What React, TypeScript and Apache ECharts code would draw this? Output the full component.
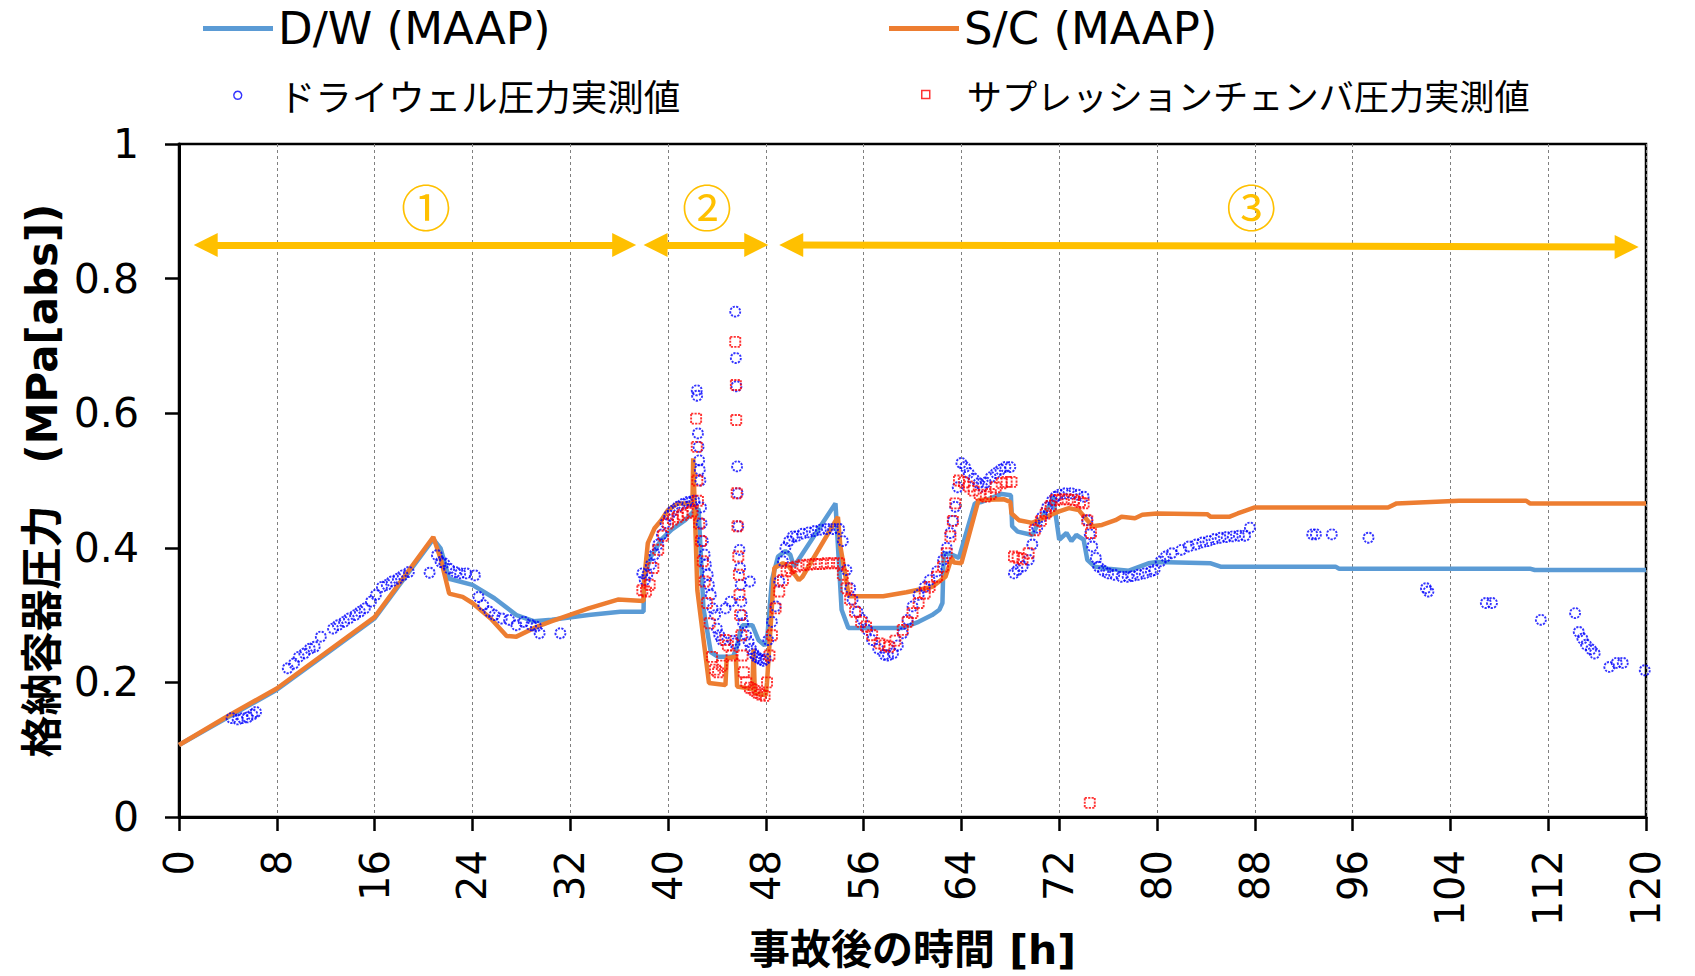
import React, { useEffect, useRef } from "react";
import * as echarts from "echarts";

// Containment pressure after the accident: MAAP analysis vs. measured values
// [hours after accident, pressure MPa(abs)]

const dwMaap: [number, number][] = [
  [0, 0.107], [4, 0.148], [8, 0.189], [12, 0.242], [16, 0.295], [20.8, 0.413],
  [21.4, 0.399], [22.1, 0.354], [24, 0.345], [25.8, 0.325], [27.6, 0.3], [29, 0.291],
  [30.5, 0.293], [33.5, 0.3], [36.1, 0.305], [38, 0.305], [38.05, 0.357], [38.6, 0.387],
  [39.45, 0.412], [40.3, 0.427], [41.4, 0.441], [42.2, 0.456], [42.5, 0.458], [42.9, 0.31],
  [43.5, 0.245], [44.1, 0.238], [45.3, 0.238], [45.6, 0.25], [45.9, 0.275], [46.1, 0.285],
  [46.9, 0.285], [47.4, 0.263], [47.9, 0.255], [48.1, 0.262], [48.5, 0.352], [49, 0.387],
  [49.6, 0.395], [50, 0.39], [50.3, 0.372], [53.7, 0.466], [54.2, 0.308], [54.75, 0.281],
  [59.2, 0.281], [60.5, 0.29], [61.6, 0.3], [62.2, 0.308], [62.45, 0.318], [62.55, 0.392],
  [63.2, 0.39], [63.8, 0.385], [65.1, 0.466], [65.6, 0.468], [67.3, 0.48], [68.05, 0.478],
  [68.15, 0.432], [68.6, 0.424], [69.8, 0.419], [70.3, 0.437], [71.3, 0.466], [71.5, 0.476],
  [72, 0.412], [72.6, 0.422], [73, 0.41], [73.4, 0.419], [74, 0.412], [74.3, 0.382],
  [74.9, 0.372], [76, 0.369], [77.7, 0.366], [79.3, 0.377], [80, 0.379], [84.4, 0.377],
  [85.2, 0.372], [94.6, 0.372], [94.9, 0.369], [110.5, 0.369], [110.9, 0.367], [120, 0.367],
];

const scMaap: [number, number][] = [
  [0, 0.107], [4, 0.15], [8, 0.191], [12, 0.244], [16, 0.297], [20.8, 0.416],
  [21.4, 0.384], [22.1, 0.332], [23.2, 0.327], [24, 0.318], [25.5, 0.295], [26.8, 0.269],
  [27.6, 0.268], [29.3, 0.283], [30.5, 0.291], [33.5, 0.31], [35.9, 0.323], [38, 0.321],
  [38.05, 0.352], [38.35, 0.407], [38.9, 0.429], [39.45, 0.441], [40, 0.456], [40.8, 0.466],
  [42, 0.466], [42.06, 0.533], [42.4, 0.337], [43.35, 0.199], [44.7, 0.196], [44.8, 0.236],
  [45.55, 0.238], [45.65, 0.194], [46.9, 0.19], [47, 0.25], [47.1, 0.184], [48, 0.181],
  [48.1, 0.2], [48.7, 0.37], [49.4, 0.377], [49.9, 0.372], [50.7, 0.352], [51, 0.357],
  [53.9, 0.446], [54.1, 0.402], [54.8, 0.328], [57.6, 0.328], [59.5, 0.334], [61.1, 0.34],
  [61.6, 0.342], [62.7, 0.357], [63.2, 0.385], [63.4, 0.378], [64, 0.377], [65.4, 0.471],
  [67.5, 0.472], [68, 0.468], [68.1, 0.451], [68.7, 0.441], [69.8, 0.437], [70.9, 0.446],
  [72, 0.454], [72.8, 0.459], [73.6, 0.456], [74.3, 0.441], [74.7, 0.432], [75.5, 0.434],
  [76.6, 0.441], [77.1, 0.446], [78.2, 0.444], [78.8, 0.449], [80, 0.451], [84.1, 0.45],
  [84.4, 0.446], [85.9, 0.446], [86.6, 0.451], [88, 0.46], [98.9, 0.46], [99.6, 0.466],
  [104.7, 0.47], [110.2, 0.47], [110.5, 0.466], [120, 0.466],
];

const dwMeasured: [number, number][] = [
  [4.3, 0.147], [4.8, 0.145], [5.2, 0.147], [5.6, 0.148], [6.0, 0.152], [6.3, 0.156],
  [8.9, 0.221], [9.4, 0.228], [9.8, 0.238], [10.25, 0.243], [10.7, 0.25], [11.1, 0.253],
  [11.6, 0.268], [12.6, 0.28], [13.0, 0.285], [13.5, 0.29], [13.9, 0.295], [14.4, 0.3],
  [14.8, 0.305], [15.2, 0.31], [15.7, 0.32], [16.1, 0.33], [16.6, 0.342], [17.0, 0.345],
  [17.4, 0.35], [17.9, 0.354], [18.3, 0.359], [18.8, 0.364], [20.5, 0.363],
  [21.1, 0.389], [21.4, 0.379], [21.7, 0.377], [22.1, 0.369], [22.6, 0.364], [23.0, 0.362],
  [23.5, 0.362], [24.2, 0.359], [24.5, 0.327], [24.9, 0.315], [25.4, 0.305], [25.8, 0.3],
  [26.4, 0.295], [27.0, 0.293], [27.6, 0.285], [28.2, 0.29], [28.8, 0.285], [29.2, 0.283],
  [29.5, 0.273], [31.2, 0.273],
  [37.9, 0.362], [38.1, 0.352], [38.3, 0.36], [38.6, 0.375], [38.9, 0.39], [39.2, 0.405],
  [39.5, 0.42], [39.8, 0.437], [40.1, 0.448], [40.4, 0.455], [40.8, 0.461], [41.2, 0.465],
  [41.6, 0.468], [41.9, 0.469], [42.15, 0.47], [42.35, 0.634], [42.38, 0.626], [42.45, 0.57],
  [42.5, 0.55], [42.55, 0.53], [42.6, 0.516], [42.65, 0.5], [42.7, 0.46], [42.75, 0.436],
  [42.85, 0.41], [43.0, 0.39], [43.1, 0.375], [43.25, 0.36], [43.35, 0.345], [43.5, 0.33],
  [43.65, 0.31], [43.85, 0.3], [44.0, 0.28], [44.2, 0.27], [44.4, 0.263], [44.7, 0.31],
  [45.1, 0.32], [45.3, 0.262], [45.45, 0.258],
  [45.5, 0.751], [45.55, 0.682], [45.6, 0.64], [45.65, 0.521], [45.7, 0.481], [45.75, 0.432],
  [45.85, 0.397], [45.9, 0.37], [45.95, 0.345], [46.0, 0.32], [46.05, 0.3], [46.15, 0.288],
  [46.7, 0.35], [46.4, 0.27], [46.6, 0.26], [46.8, 0.25], [47.0, 0.243], [47.2, 0.238],
  [47.4, 0.236], [47.6, 0.234], [47.8, 0.232], [48.0, 0.235], [48.2, 0.263], [48.5, 0.29],
  [48.8, 0.313], [49.1, 0.35], [49.4, 0.38], [49.6, 0.4], [49.9, 0.41], [50.2, 0.417],
  [50.5, 0.417], [51.0, 0.421], [51.5, 0.423], [52.0, 0.425], [52.5, 0.427], [53.0, 0.428],
  [53.5, 0.428], [54.0, 0.428], [54.3, 0.41], [54.6, 0.367], [54.9, 0.34], [55.1, 0.323],
  [55.5, 0.305], [55.9, 0.293], [56.3, 0.278], [56.7, 0.263], [57.2, 0.25], [57.7, 0.241],
  [58.0, 0.24], [58.4, 0.243], [58.8, 0.255], [59.2, 0.273], [59.6, 0.293], [60.0, 0.313],
  [60.5, 0.33], [61.0, 0.342], [61.4, 0.352], [62.0, 0.365], [62.5, 0.382], [62.8, 0.4],
  [63.1, 0.422], [63.3, 0.44], [63.5, 0.461], [63.7, 0.49], [64.0, 0.526], [64.3, 0.52],
  [64.6, 0.511], [65.0, 0.503], [65.4, 0.496], [65.7, 0.491], [66.0, 0.497], [66.4, 0.505],
  [66.8, 0.511], [67.2, 0.516], [67.6, 0.52], [68.0, 0.52],
  [68.3, 0.362], [68.6, 0.367], [69.0, 0.372], [69.5, 0.382], [69.8, 0.405], [70.2, 0.43],
  [70.6, 0.446], [71.0, 0.46], [71.4, 0.47], [71.7, 0.476], [72.0, 0.479], [72.5, 0.481],
  [73.0, 0.481], [73.5, 0.479], [74.0, 0.476], [74.3, 0.441], [74.5, 0.42], [74.7, 0.402],
  [75.0, 0.385], [75.2, 0.372], [75.6, 0.366], [76.0, 0.362], [76.5, 0.36], [77.1, 0.357],
  [77.6, 0.357], [78.0, 0.358], [78.5, 0.36], [79.0, 0.362], [79.5, 0.365], [79.8, 0.367],
  [80.3, 0.38], [80.7, 0.387], [81.2, 0.392], [82.0, 0.397], [82.6, 0.402], [83.2, 0.405],
  [83.7, 0.408], [84.2, 0.41], [84.7, 0.413], [85.2, 0.415], [85.7, 0.416], [86.2, 0.417],
  [86.7, 0.418], [87.2, 0.418], [87.6, 0.43],
  [92.7, 0.42], [93.0, 0.42], [94.3, 0.42], [97.3, 0.415], [102.0, 0.34], [102.2, 0.335],
  [106.9, 0.318], [107.4, 0.318], [111.4, 0.293], [114.2, 0.303], [114.5, 0.275],
  [114.8, 0.265], [115.1, 0.256], [115.5, 0.249], [115.8, 0.243], [117.0, 0.223],
  [117.6, 0.229], [118.1, 0.229], [119.9, 0.218],
];

const scMeasured: [number, number][] = [
  [37.9, 0.337], [38.2, 0.335], [38.5, 0.345], [38.8, 0.37], [39.2, 0.397], [39.6, 0.418],
  [40.0, 0.436], [40.4, 0.442], [40.8, 0.446], [41.2, 0.449], [41.6, 0.452], [42.0, 0.454],
  [42.3, 0.592], [42.35, 0.55], [42.4, 0.5], [42.45, 0.47], [42.55, 0.436], [42.7, 0.41],
  [42.85, 0.38], [43.0, 0.35], [43.2, 0.318], [43.4, 0.288], [43.6, 0.238], [43.85, 0.219],
  [44.1, 0.215], [44.4, 0.225], [44.7, 0.263], [44.9, 0.255], [45.2, 0.24],
  [45.5, 0.706], [45.55, 0.642], [45.58, 0.59], [45.62, 0.481], [45.68, 0.432], [45.75, 0.387],
  [45.8, 0.36], [45.85, 0.33], [45.9, 0.3], [46.0, 0.27], [46.1, 0.24], [46.2, 0.215],
  [46.4, 0.2], [46.7, 0.192], [47.0, 0.189], [47.3, 0.185], [47.6, 0.182], [47.9, 0.18],
  [48.1, 0.2], [48.3, 0.24], [48.5, 0.27], [48.8, 0.31], [49.1, 0.335], [49.4, 0.352],
  [49.7, 0.365], [50.0, 0.37], [50.5, 0.372], [51.0, 0.374], [51.5, 0.375], [52.0, 0.376],
  [52.5, 0.376], [53.0, 0.377], [53.5, 0.377], [54.0, 0.377], [54.3, 0.36], [54.6, 0.34],
  [54.9, 0.323], [55.3, 0.305], [55.8, 0.29], [56.2, 0.283], [56.7, 0.27], [57.3, 0.258],
  [57.7, 0.255], [58.1, 0.253], [58.6, 0.262], [59.2, 0.278], [59.6, 0.29], [60.0, 0.303],
  [60.5, 0.318], [61.0, 0.332], [61.4, 0.342], [62.0, 0.357], [62.5, 0.372], [62.8, 0.392],
  [63.1, 0.417], [63.3, 0.44], [63.5, 0.466], [63.8, 0.5], [64.2, 0.497], [64.6, 0.491],
  [65.0, 0.485], [65.5, 0.479], [66.0, 0.476], [66.4, 0.48], [66.8, 0.49], [67.3, 0.496],
  [67.7, 0.498], [68.1, 0.498], [68.3, 0.387], [68.6, 0.385], [69.0, 0.383], [69.5, 0.392],
  [70.0, 0.426], [70.5, 0.44], [70.9, 0.451], [71.3, 0.462], [71.7, 0.471], [72.2, 0.472],
  [72.7, 0.472], [73.2, 0.471], [73.7, 0.468], [74.0, 0.466], [74.3, 0.441], [74.6, 0.422],
  [74.5, 0.021],
];

// Phases of the accident progression: [start h, end h, level at start, level at end]
const phaseSpans: [number, number, number, number][] = [
  [1.2, 37.4, 0.85, 0.85],
  [38.0, 48.2, 0.85, 0.85],
  [49.1, 119.4, 0.85, 0.847],
];
const phaseNames = ["①", "②", "③"];
const phaseLabelPos: [number, number][] = [[20.2, 0.909], [43.2, 0.909], [87.7, 0.909]];

const seriesNames = [
  "D/W (MAAP)",
  "S/C (MAAP)",
  "ドライウェル圧力実測値",
  "サプレッションチェンバ圧力実測値",
];

const LATIN = "'DejaVu Sans', 'Noto Sans CJK JP', sans-serif";
const JP = "'Noto Sans CJK JP', sans-serif";

const GRID = { left: 179, right: 49, top: 144, bottom: 159 };
const PLOT_W = 1695 - GRID.left - GRID.right;
const ARROW_HEAD = 24;

const CIRCLE_ICON = "path://M5,0A5,5,0,1,1,4.999,0Z";
const SQUARE_ICON = "path://M0,0L10,0L10,10L0,10Z";

export default function App() {
  const ref = useRef<HTMLDivElement>(null);

  useEffect(() => {
    if (!ref.current) return;
    const chart = echarts.init(ref.current, undefined, { renderer: "svg" });
    const headInset = (ARROW_HEAD / 2) / (PLOT_W / 120);

    const markerStyle = (color: string) => ({
      color: "rgba(255,255,255,0)",
      borderColor: color,
      borderWidth: 1.9,
      borderType: [2.2, 1.2],
    });

    // Marker legends: the icon sits centred in a 72px slot; the box layout
    // aligns the icon's own left edge with `left`.
    const markerLegend = (name: string, left: number, icon: string, fontSize: number) => ({
      data: [name], left, top: 77, padding: 0, itemWidth: 72, itemHeight: 8,
      icon, symbolKeepAspect: true, selectedMode: false,
      itemStyle: { borderWidth: 1.5 },
      textStyle: { fontSize, fontFamily: JP, color: "#000" },
    });

    const option: any = {
      animation: false,
      backgroundColor: "#ffffff",
      textStyle: { fontFamily: LATIN },
      grid: {
        ...GRID, show: true, borderColor: "#000", borderWidth: 2.5, backgroundColor: "transparent",
        containLabel: false, outerBoundsMode: "none",
      },
      legend: [
        {
          data: [seriesNames[0]], left: 203, top: 6, padding: 0, itemWidth: 70, itemHeight: 5,
          icon: "rect", selectedMode: false,
          textStyle: { fontSize: 45, fontFamily: LATIN, color: "#000" },
        },
        {
          data: [seriesNames[1]], left: 889, top: 6, padding: 0, itemWidth: 70, itemHeight: 5,
          icon: "rect", selectedMode: false,
          textStyle: { fontSize: 45, fontFamily: LATIN, color: "#000" },
        },
        markerLegend(seriesNames[2], 233, CIRCLE_ICON, 36.5),
        markerLegend(seriesNames[3], 921, SQUARE_ICON, 35.2),
      ],
      xAxis: {
        type: "value", min: 0, max: 120, interval: 8,
        name: "事故後の時間 [h]", nameLocation: "middle", nameGap: 111, nameMoveOverlap: false,
        nameTextStyle: { fontSize: 41, fontWeight: "bold", color: "#000", fontFamily: LATIN, lineHeight: 44 },
        axisLine: { show: true, onZero: false, lineStyle: { color: "#000", width: 3 } },
        axisTick: { show: true, length: 14, lineStyle: { color: "#000", width: 2.5 } },
        axisLabel: { rotate: 90, margin: 33, fontSize: 40, color: "#000", fontFamily: LATIN },
        splitLine: { show: true, lineStyle: { type: [3, 3], color: "#808080", width: 1 } },
      },
      yAxis: {
        type: "value", min: 0, max: 1, interval: 0.2,
        name: "格納容器圧力　(MPa[abs])", nameLocation: "middle", nameGap: 116, nameMoveOverlap: false,
        nameTextStyle: { fontSize: 42, fontWeight: "bold", color: "#000", fontFamily: LATIN },
        axisLine: { show: true, onZero: false, lineStyle: { color: "#000", width: 3 } },
        axisTick: { show: true, length: 14, lineStyle: { color: "#000", width: 2.5 } },
        axisLabel: { margin: 40, fontSize: 41, color: "#000", fontFamily: LATIN },
        splitLine: { show: false },
      },
      series: [
        {
          name: seriesNames[0], type: "line", data: dwMaap, showSymbol: false, symbol: "none",
          lineStyle: { color: "#5B9BD5", width: 4.5 }, itemStyle: { color: "#5B9BD5" }, z: 2,
        },
        {
          name: seriesNames[1], type: "line", data: scMaap, showSymbol: false, symbol: "none",
          lineStyle: { color: "#ED7D31", width: 4.5 }, itemStyle: { color: "#ED7D31" }, z: 2,
        },
        {
          name: seriesNames[2], type: "scatter", data: dwMeasured, symbol: "circle", symbolSize: 10,
          itemStyle: markerStyle("#0000FF"), z: 3,
        },
        {
          name: seriesNames[3], type: "scatter", data: scMeasured, symbol: "rect", symbolSize: 10,
          itemStyle: markerStyle("#FF0000"), z: 4,
        },
        {
          name: "phases", type: "line", data: [], silent: true, z: 5,
          markLine: {
            silent: true, symbol: ["triangle", "triangle"], symbolSize: ARROW_HEAD,
            label: { show: false },
            itemStyle: { color: "#FFC000" },
            lineStyle: { color: "#FFC000", width: 7, type: "solid" },
            emphasis: { disabled: true },
            data: phaseSpans.map(([a, b, va, vb]) => [
              { coord: [a + headInset, va] },
              { coord: [b - headInset, vb] },
            ]),
          },
          markPoint: {
            silent: true, symbol: "circle", symbolSize: 1,
            itemStyle: { color: "rgba(0,0,0,0)" },
            label: { show: true, position: "inside", formatter: "{b}", fontSize: 50, color: "#FFC000", fontFamily: JP },
            data: phaseNames.map((n, i) => ({ name: n, coord: phaseLabelPos[i] })),
          },
        },
      ],
    };

    chart.setOption(option);
    return () => chart.dispose();
  }, []);

  return (
    <div
      ref={ref}
      style={{ position: "fixed", left: 0, top: 0, width: 1695, height: 976, background: "#fff" }}
    />
  );
}
